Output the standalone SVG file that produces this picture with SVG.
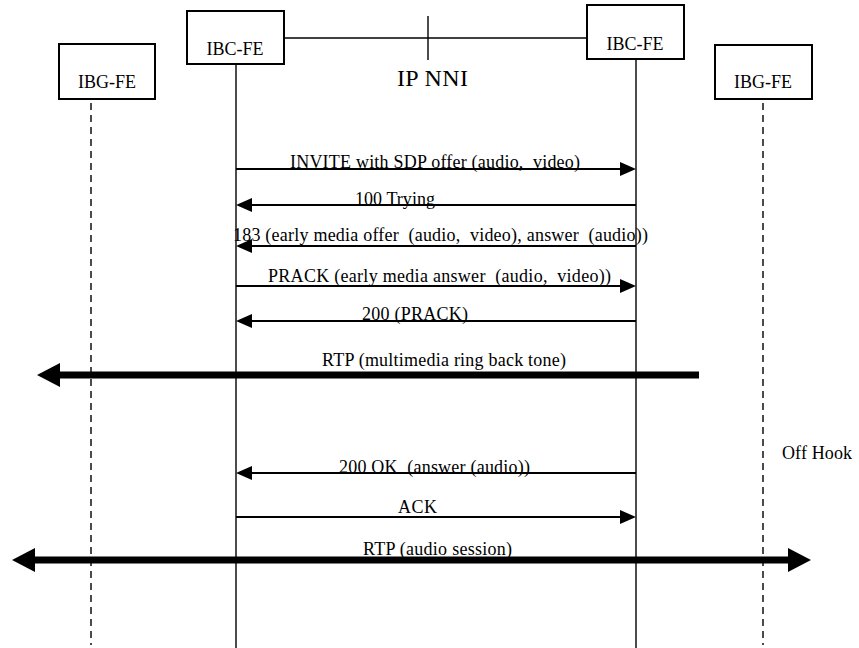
<svg xmlns="http://www.w3.org/2000/svg" width="859" height="648" viewBox="0 0 859 648">
  <style>
    text { font-family: "Liberation Serif", "Times New Roman", serif; font-size: 18px; fill: #000; white-space: pre; }
    .box { fill: #fff; stroke: #000; stroke-width: 2; }
    .life { stroke: #000; stroke-width: 1.4; fill: none; }
    .dash { stroke: #000; stroke-width: 1.4; stroke-dasharray: 7 5; fill: none; }
    .msg { stroke: #000; stroke-width: 2; fill: none; marker-end: url(#head); }
    .media { stroke: #000; stroke-width: 7; fill: none; }
  </style>
  <defs>
    <marker id="head" markerUnits="userSpaceOnUse" markerWidth="18" markerHeight="16" refX="0" refY="7" orient="auto-start-reverse" viewBox="0 0 18 16" overflow="visible">
      <path d="M0,0 L16,7 L0,14 Z" fill="#000"/>
    </marker>
    <marker id="bighead" markerUnits="userSpaceOnUse" markerWidth="26" markerHeight="26" refX="0" refY="12" orient="auto-start-reverse" viewBox="0 0 26 26" overflow="visible">
      <path d="M0,0 L23,12 L0,24 Z" fill="#000"/>
    </marker>
  </defs>

  <!-- lifelines -->
  <g id="lifelines">
    <line class="dash" x1="91" y1="103" x2="91" y2="645"/>
    <line class="life" x1="236" y1="64" x2="236" y2="648"/>
    <line class="life" x1="636" y1="59" x2="636" y2="648"/>
    <line class="dash" x1="763" y1="103" x2="763" y2="645"/>
  </g>

  <!-- IP NNI interconnect -->
  <g id="ip-nni">
    <line class="life" x1="284" y1="38" x2="587" y2="38"/>
    <line class="life" x1="428" y1="16" x2="428" y2="60"/>
    <text x="397" y="86" textLength="71" lengthAdjust="spacing" style="font-size:24px">IP NNI</text>
  </g>

  <g id="ibg-fe-left">
    <rect class="box" x="59" y="44" width="96" height="55"/>
    <text x="107" y="88" text-anchor="middle">IBG-FE</text>
  </g>
  <g id="ibc-fe-left">
    <rect class="box" x="187" y="11" width="97" height="53"/>
    <text x="235" y="55" text-anchor="middle">IBC-FE</text>
  </g>
  <g id="ibc-fe-right">
    <rect class="box" x="587" y="5" width="97" height="54"/>
    <text x="635" y="50" text-anchor="middle">IBC-FE</text>
  </g>
  <g id="ibg-fe-right">
    <rect class="box" x="715" y="45" width="97" height="54"/>
    <text x="763" y="88" text-anchor="middle">IBG-FE</text>
  </g>

  <!-- message flow -->
  <g id="connectors">
    <line class="msg" x1="236" y1="169" x2="620" y2="169"/>
    <line class="msg" x1="636" y1="205" x2="252" y2="205"/>
    <line class="msg" x1="636" y1="246" x2="252" y2="246"/>
    <line class="msg" x1="236" y1="286" x2="620" y2="286"/>
    <line class="msg" x1="636" y1="321" x2="252" y2="321"/>
    <line class="media" x1="699" y1="375" x2="60" y2="375" marker-end="url(#bighead)"/>
    <line class="msg" x1="636" y1="473" x2="252" y2="473"/>
    <line class="msg" x1="236" y1="517" x2="620" y2="517"/>
    <line class="media" x1="35" y1="560" x2="788" y2="560" marker-start="url(#bighead)" marker-end="url(#bighead)"/>
  </g>

  <g id="labels">
    <text x="290" y="168" textLength="290" lengthAdjust="spacing">INVITE with SDP offer (audio,  video)</text>
    <text x="355" y="205" textLength="80" lengthAdjust="spacing">100 Trying</text>
    <text x="233" y="241" textLength="415" lengthAdjust="spacing">183 (early media offer  (audio,  video), answer  (audio))</text>
    <text x="268" y="282" textLength="343" lengthAdjust="spacing">PRACK (early media answer  (audio,  video))</text>
    <text x="362" y="320" textLength="106" lengthAdjust="spacing">200 (PRACK)</text>
    <text x="322" y="366" textLength="244" lengthAdjust="spacing">RTP (multimedia ring back tone)</text>
    <text x="782" y="459" textLength="70" lengthAdjust="spacing">Off Hook</text>
    <text x="339" y="473" textLength="191" lengthAdjust="spacing">200 OK  (answer (audio))</text>
    <text x="398" y="513" textLength="39" lengthAdjust="spacing">ACK</text>
    <text x="363" y="555" textLength="149" lengthAdjust="spacing">RTP (audio session)</text>
  </g>
</svg>
